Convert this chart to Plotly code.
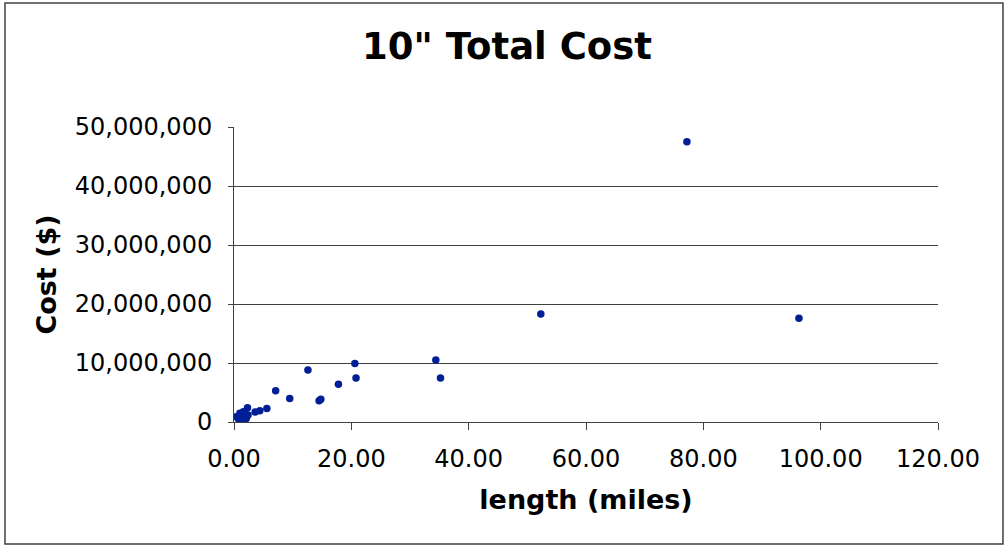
import plotly.graph_objects as go

# length (miles) and total cost ($)
length_miles = [
    77.2, 52.3, 96.3, 34.4, 35.2, 20.6, 20.8, 17.8, 12.6, 7.1,
    9.5, 14.5, 14.8, 5.6, 4.4, 3.6, 2.3, 1.0, 1.6, 0.7,
    2.1, 1.0, 1.8, 2.4, 0.4, 1.3, 1.8, 1.6,
]
cost_dollars = [
    47.5e6, 18.3e6, 17.6e6, 10.5e6, 7.45e6, 9.9e6, 7.45e6, 6.4e6, 8.8e6, 5.3e6,
    4.0e6, 3.6e6, 3.85e6, 2.3e6, 1.9e6, 1.7e6, 2.4e6, 1.5e6, 0.9e6, 0.6e6,
    0.6e6, 0.05e6, 1.5e6, 1.2e6, 0.9e6, 0.35e6, 0.35e6, 1.75e6,
]

x_ticks = [0, 20, 40, 60, 80, 100, 120]
y_ticks = [0, 10e6, 20e6, 30e6, 40e6, 50e6]

FONT = "DejaVu Sans"

fig = go.Figure()
fig.add_scatter(
    x=length_miles,
    y=cost_dollars,
    mode="markers",
    marker=dict(size=7.5, color="#001E96"),
    showlegend=False,
)

fig.update_layout(
    width=1007,
    height=546,
    margin=dict(l=234, r=69, t=127, b=124),
    paper_bgcolor="white",
    plot_bgcolor="white",
    font=dict(family=FONT, color="black"),
    title=dict(
        text="<b>10\" Total Cost</b>",
        x=507 / 1007,
        xref="container",
        xanchor="center",
        y=1 - 46 / 546,
        yref="container",
        yanchor="middle",
        font=dict(size=37, family=FONT),
    ),
    # outer chart border
    shapes=[
        dict(
            type="rect", xref="paper", yref="paper",
            x0=-0.3253, x1=1.0923, y0=-0.4136, y1=1.4203,
            line=dict(color="#404040", width=1.5),
        )
    ],
)

fig.update_xaxes(
    range=[0, 120],
    tickvals=x_ticks,
    tickformat=".2f",
    ticks="outside",
    ticklen=7,
    tickcolor="#404040",
    showline=True,
    linecolor="#404040",
    linewidth=1,
    showgrid=False,
    zeroline=False,
    tickfont=dict(size=24),
    ticklabelstandoff=8,
    title=dict(text="<b>length (miles)</b>", font=dict(size=27), standoff=18),
)
fig.update_yaxes(
    range=[0, 50e6],
    tickvals=y_ticks,
    tickformat=",d",
    ticks="outside",
    ticklen=5,
    tickcolor="#404040",
    showline=True,
    linecolor="#404040",
    linewidth=1,
    showgrid=True,
    gridcolor="#404040",
    gridwidth=1,
    zeroline=False,
    tickfont=dict(size=24),
    ticklabelstandoff=11,
    title=dict(text="<b>Cost ($)</b>", font=dict(size=27), standoff=10),
)

fig.write_html(
    "out.html",
    config={"displayModeBar": False},
    post_script="document.body.style.margin='0';",
)
